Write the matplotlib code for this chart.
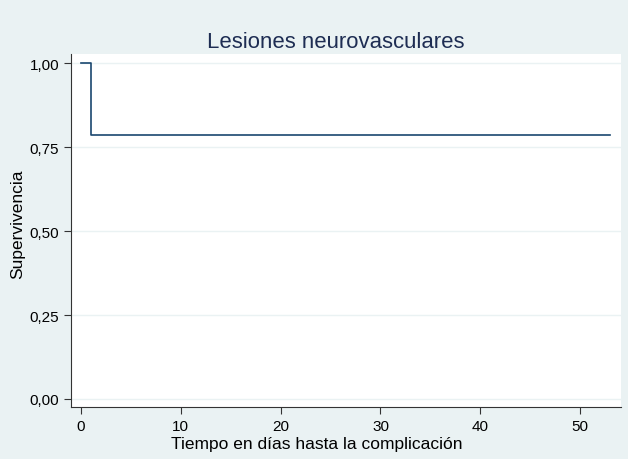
import matplotlib.pyplot as plt
import numpy as np

# Kaplan-Meier estimate
times = [0, 1, 53]
survival = [1.0, 0.786, 0.786]

xticks = [0, 10, 20, 30, 40, 50]
yticks = [0.0, 0.25, 0.5, 0.75, 1.0]
ytick_labels = ["0,00", "0,25", "0,50", "0,75", "1,00"]

bg = "#EAF2F3"
navy = "#1A476F"

plt.rcParams['font.family'] = ['Liberation Sans', 'DejaVu Sans']

fig = plt.figure(figsize=(6.28, 4.6), dpi=100, facecolor=bg)
ax = fig.add_axes([0.113, 0.113, 0.876, 0.767])
ax.set_facecolor("white")

ax.step(times, survival, where="post", color=navy, linewidth=1.2)

ax.set_xlim(-1, 54.1)
ax.set_ylim(-0.024, 1.027)
ax.set_xticks(xticks)
ax.set_yticks(yticks)
ax.set_yticklabels(ytick_labels)
ax.grid(axis="y", color=bg, linewidth=1)
ax.set_axisbelow(True)

for side in ["top", "right"]:
    ax.spines[side].set_visible(False)
for side in ["left", "bottom"]:
    ax.spines[side].set_color("#333333")
    ax.spines[side].set_linewidth(0.8)
ax.tick_params(direction="out", length=5, width=0.8, color="#333333", labelsize=11)

ax.set_title("Lesiones neurovasculares", fontsize=15.9, color="#1E2D53", pad=5, x=0.481)
ax.set_xlabel("Tiempo en días hasta la complicación", fontsize=12.5)
ax.xaxis.set_label_coords(0.447, -0.083)
ax.set_ylabel("Supervivencia", fontsize=12.5)
ax.yaxis.set_label_coords(-0.083, 0.52)

plt.savefig("out.png", dpi=100, facecolor=bg)
